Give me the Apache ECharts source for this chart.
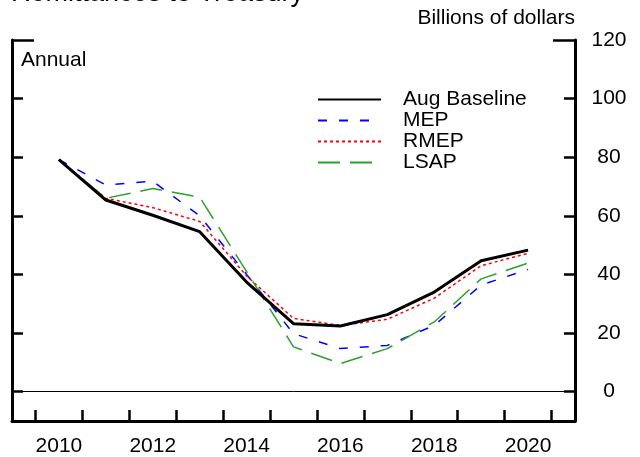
<!DOCTYPE html>
<html>
<head>
<meta charset="utf-8">
<script src="https://cdn.jsdelivr.net/npm/echarts@6/dist/echarts.min.js"></script>
<style>
  html, body { margin: 0; padding: 0; background: #fff; }
  #chart { width: 640px; height: 457px; }
</style>
</head>
<body>
<div id="chart"></div>
<script>
// data
const years = [2010, 2011, 2012, 2013, 2014, 2015, 2016, 2017, 2018, 2019, 2020]
const augBaseline = [79.2, 65.4, 60.2, 54.6, 37.4, 23.2, 22.4, 26.3, 34.0, 44.7, 48.3]
const mep = [79.2, 70.5, 71.8, 60.0, 40.0, 19.8, 14.7, 15.8, 22.6, 36.4, 41.7]
const rmep = [79.2, 66.0, 62.8, 58.1, 39.5, 25.0, 22.6, 24.7, 31.9, 43.0, 47.2]
const lsap = [79.2, 66.0, 69.3, 66.4, 41.0, 15.3, 9.6, 14.7, 23.8, 38.5, 43.9]
const yTicks = [0, 20, 40, 60, 80, 100]
const yLabels = [0, 20, 40, 60, 80, 100, 120]

const FONT = 'Liberation Sans, Arial, sans-serif'

const pairs = (vals) => years.map((y, i) => [y, vals[i]])

const chart = echarts.init(document.getElementById('chart'))

const yBase = {
  type: 'value',
  min: -10,
  max: 120,
  splitLine: { show: false },
  axisLabel: { show: false },
  axisLine: { show: true, lineStyle: { color: '#000', width: 3 } },
  axisTick: {
    show: true,
    inside: true,
    length: 11,
    customValues: yTicks,
    lineStyle: { color: '#000', width: 2.5 }
  }
}

// only the long tick at the top corners
const yCorner = {
  type: 'value',
  min: -10,
  max: 120,
  splitLine: { show: false },
  axisLabel: { show: false },
  axisLine: { show: false },
  axisTick: {
    show: true,
    inside: true,
    length: 22,
    customValues: [120],
    lineStyle: { color: '#000', width: 2.5 }
  }
}

const option = {
  animation: false,
  backgroundColor: '#fff',
  textStyle: { fontFamily: FONT },
  title: [
    {
      text: 'Remittances to Treasury',
      left: 11,
      top: -20,
      padding: 0,
      textStyle: { fontFamily: FONT, fontSize: 27, fontWeight: 'normal', color: '#000' }
    },
    {
      text: 'Billions of dollars',
      right: 65,
      top: 8,
      padding: 0,
      textStyle: { fontFamily: FONT, fontSize: 21, fontWeight: 'normal', color: '#000' }
    },
    {
      text: 'Annual',
      left: 21,
      top: 50,
      padding: 0,
      textStyle: { fontFamily: FONT, fontSize: 21, fontWeight: 'normal', color: '#000' }
    }
  ],
  legend: {
    left: 317,
    top: 89,
    orient: 'vertical',
    itemWidth: 63,
    itemHeight: 14,
    itemGap: 0,
    padding: 0,
    itemStyle: { opacity: 0 },
    textStyle: { fontFamily: FONT, fontSize: 21, color: '#000', padding: [0, 0, 0, 17] },
    data: ['Aug Baseline', 'MEP', 'RMEP', 'LSAP']
  },
  grid: { left: 12, right: 65, top: 40, bottom: 35 },
  xAxis: {
    type: 'value',
    min: 2009,
    max: 2021,
    interval: 1,
    splitLine: { show: false },
    axisLine: { show: true, onZero: false, lineStyle: { color: '#000', width: 3 } },
    axisTick: { show: false, inside: true },
    minorTick: { show: true, splitNumber: 2, length: 11, lineStyle: { color: '#000', width: 2.5 } },
    minorSplitLine: { show: false },
    axisLabel: {
      color: '#000',
      fontFamily: FONT,
      fontSize: 21,
      margin: 15,
      formatter: (v) => (v % 2 === 0 ? String(v) : '')
    }
  },
  yAxis: [
    {
      ...yBase,
      position: 'right',
      axisLabel: {
        show: true,
        customValues: yLabels,
        color: '#000',
        fontFamily: FONT,
        fontSize: 21,
        align: 'center',
        margin: 34
      }
    },
    { ...yBase, position: 'left' },
    { ...yCorner, position: 'left' },
    { ...yCorner, position: 'right' }
  ],
  series: [
    {
      name: 'Aug Baseline',
      type: 'line',
      data: pairs(augBaseline),
      symbol: 'none',
      z: 5,
      lineStyle: { color: '#000', width: 3 },
      itemStyle: { color: '#000' },
      markLine: {
        silent: true,
        symbol: ['none', 'none'],
        label: { show: false },
        lineStyle: { color: '#000', width: 1, type: 'solid' },
        data: [{ yAxis: 0 }]
      }
    },
    {
      name: 'MEP',
      type: 'line',
      data: pairs(mep),
      symbol: 'none',
      lineStyle: { color: '#0000ff', width: 1.5, type: [9, 12] },
      itemStyle: { color: '#0000ff' }
    },
    {
      name: 'RMEP',
      type: 'line',
      data: pairs(rmep),
      symbol: 'none',
      lineStyle: { color: '#ff0000', width: 1.5, type: [3, 3] },
      itemStyle: { color: '#ff0000' }
    },
    {
      name: 'LSAP',
      type: 'line',
      data: pairs(lsap),
      symbol: 'none',
      lineStyle: { color: '#2ca02c', width: 1.5, type: [22, 10] },
      itemStyle: { color: '#2ca02c' }
    }
  ]
}

chart.setOption(option)
</script>
</body>
</html>
